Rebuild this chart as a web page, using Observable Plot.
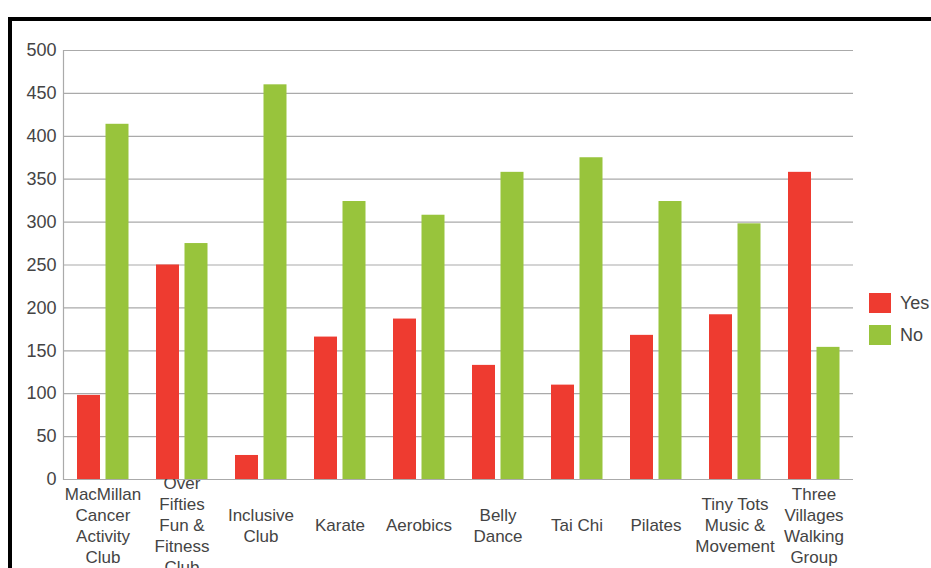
<!DOCTYPE html>
<html>
<head>
<meta charset="utf-8">
<script src="https://cdn.jsdelivr.net/npm/d3@7"></script>
<script src="https://cdn.jsdelivr.net/npm/@observablehq/plot@0.6"></script>
<style>
  html, body { margin: 0; padding: 0; background: #fff; overflow: hidden; width: 931px; height: 568px; }
  #frame { position: absolute; left: 8px; top: 17px; width: 1200px; height: 1000px;
           border-left: 4px solid #000; border-top: 4px solid #000; box-sizing: border-box; }
  #chart { position: absolute; left: 0; top: 0; }
  #legend { position: absolute; left: 869px; top: 293px; font-family: "Liberation Sans", Arial, sans-serif;
            font-size: 18px; color: #444; }
  .item { display: flex; align-items: center; height: 20px; margin-bottom: 12px; white-space: nowrap; }
  .sw { width: 22px; height: 20px; margin-right: 9px; }
</style>
</head>
<body>
<div id="frame"></div>
<div id="chart"></div>
<div id="legend"></div>
<script>
const clubs = ["MacMillan Cancer Activity Club", "Over Fifties Fun & Fitness Club", "Inclusive Club", "Karate", "Aerobics", "Belly Dance", "Tai Chi", "Pilates", "Tiny Tots Music & Movement", "Three Villages Walking Group"];
const clubLabels = ["MacMillan\nCancer\nActivity\nClub", "Over\nFifties\nFun &\nFitness\nClub", "Inclusive\nClub", "Karate", "Aerobics", "Belly\nDance", "Tai Chi", "Pilates", "Tiny Tots\nMusic &\nMovement", "Three\nVillages\nWalking\nGroup"];
const yesValues = [98, 250, 28, 166, 187, 133, 110, 168, 192, 358];
const noValues = [414, 275, 460, 324, 308, 358, 375, 324, 298, 154];
const series = ["Yes", "No"];
const colors = ["#ee3b30", "#98c43c"];
const yTicks = [0, 50, 100, 150, 200, 250, 300, 350, 400, 450, 500];

const rows = [];
clubs.forEach((c, i) => {
  rows.push({club: c, answer: "Yes", value: yesValues[i]});
  rows.push({club: c, answer: "No", value: noValues[i]});
});

const plot = Plot.plot({
  width: 931,
  height: 568,
  marginLeft: 63,
  marginRight: 78,
  marginTop: 50,
  marginBottom: 89,
  style: {fontFamily: "'Liberation Sans', Arial, sans-serif", fontSize: "17px", color: "#444", background: "transparent"},
  x: {domain: clubs, padding: 0, round: false, label: null},
  y: {domain: [0, 500], label: null},
  color: {domain: series, range: colors},
  marks: [
    Plot.gridY(yTicks, {stroke: "#aaa", strokeOpacity: 1, strokeWidth: 1.2}),
    Plot.axisY(yTicks, {tickSize: 0, tickPadding: 7, label: null, fontSize: 18, fill: "#444"}),
    Plot.axisX({tickSize: 0, tickPadding: 45, lineAnchor: "middle", lineHeight: 1.235,
                tickFormat: d => clubLabels[clubs.indexOf(d)], label: null, fontSize: 17, fill: "#444"}),
    Plot.frame({anchor: "left", stroke: "#aaa", strokeWidth: 1.2}),
    Plot.barY(rows.filter(d => d.answer === "Yes"), {x: "club", y: "value", fill: "answer", insetLeft: 14, insetRight: 42}),
    Plot.barY(rows.filter(d => d.answer === "No"), {x: "club", y: "value", fill: "answer", insetLeft: 42.5, insetRight: 13.5})
  ]
});
document.getElementById("chart").appendChild(plot);

const color = plot.scale("color");
const legend = document.getElementById("legend");
color.domain.forEach((k, i) => {
  const item = document.createElement("div");
  item.className = "item";
  const sw = document.createElement("div");
  sw.className = "sw";
  sw.style.background = color.range[i];
  const t = document.createElement("span");
  t.textContent = k;
  item.appendChild(sw);
  item.appendChild(t);
  legend.appendChild(item);
});
</script>
</body>
</html>
